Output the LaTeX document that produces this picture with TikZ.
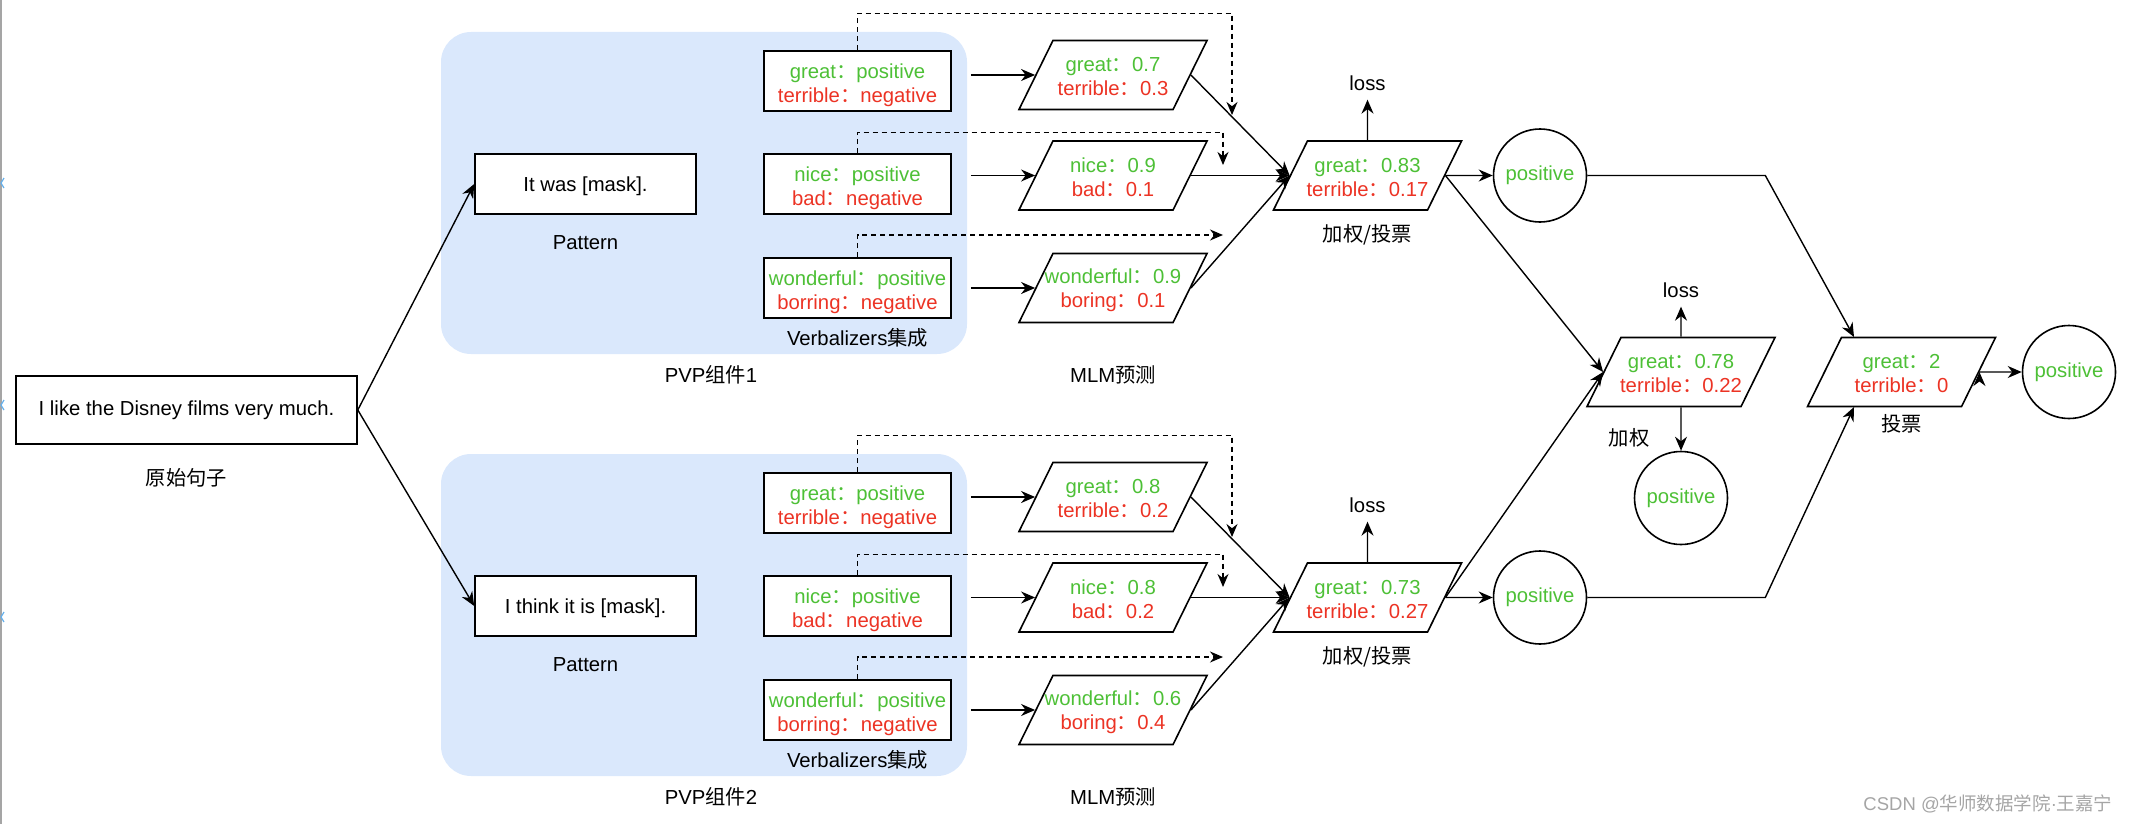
\documentclass[tikz,border=0pt]{standalone}
\usepackage{fontspec}
\setmainfont{Liberation Sans}
\newfontfamily\cjk{Noto Sans CJK SC}
\usetikzlibrary{arrows.meta,positioning,shapes.geometric,calc}

\definecolor{posgreen}{RGB}{77,192,54}
\definecolor{negred}{RGB}{236,51,36}
\definecolor{pvpblue}{RGB}{218,232,252}
\definecolor{markgray}{RGB}{165,165,165}
\definecolor{edgeblue}{RGB}{100,175,235}

\newcommand{\dgfont}{\fontsize{20.3pt}{24pt}\selectfont}
\newcommand{\fc}{{\cjk ：}}
\newcommand{\gtxt}[2]{\textcolor{posgreen}{#1\fc#2}}
\newcommand{\rtxt}[2]{\textcolor{negred}{#1\fc#2}}
% two coloured lines in a fixed box
\newcommand{\twoline}[4]{\parbox[c][69pt][c]{110pt}{\centering\vspace{4pt}\makebox[110pt]{\gtxt{#1}{#2}}\\\makebox[110pt]{\rtxt{#3}{#4}}}}
\newcommand{\verbline}[4]{\parbox[c][56pt][c]{183pt}{\centering\vspace{9pt}\gtxt{#1}{#2}\\\rtxt{#3}{#4}}}

\begin{document}
\begin{tikzpicture}[x=1pt,y=-1pt,
            every node/.style={font=\dgfont},
            box/.style={draw,rectangle,fill=white,line width=1.6pt,minimum height=60,inner xsep=2pt,align=center},
            src/.style={box,minimum width=341,minimum height=68},
            pat/.style={box,minimum width=221,text depth=0pt},
            verb/.style={box,minimum width=187,inner ysep=2pt},
            para/.style={draw,trapezium,trapezium left angle=63.8,trapezium right angle=116.2,trapezium stretches body,
              minimum width=188,inner xsep=5pt,inner ysep=0pt,fill=white,line width=1.6pt},
            res/.style={draw,circle,line width=1.6pt,minimum size=93,inner sep=0pt,text=posgreen},
            lab/.style={align=center},
            loss/.style={inner sep=9pt},
            arr/.style={draw,-{Stealth[length=14pt,width=12pt]},line width=1.4pt},
            hint/.style={draw,-{Stealth[length=13pt,width=11pt]},line width=1.3pt,dash pattern=on 5pt off 4pt}
          ]
          \useasboundingbox (0,0) rectangle (2130,824);

          %page edge
          \draw[markgray,line width=1.5pt] (1,0) -- (1,824);
          \draw[edgeblue,line width=1.2pt] (4,178) -- (1,183) -- (4,188);
          \draw[edgeblue,line width=1.2pt] (4,400) -- (1,405) -- (4,410);
          \draw[edgeblue,line width=1.2pt] (4,612) -- (1,617) -- (4,622);

          %PVP groups
          \fill[pvpblue,rounded corners=30] (441,32) rectangle (967,354);
          \fill[pvpblue,rounded corners=30] (441,454) rectangle (967,776);

          \node[src] (src) at (186.5,410) {I like the Disney films very much.};
          \node[lab,below of=src,node distance=68] (srclab) {\cjk 原始句子};

          %PVP 1
          \node[pat] (pat1) at (585.5,184) {It was [mask].};
          \node[lab,below of=pat1,node distance=59] (patlab1) {Pattern};
          \node[verb] (vb1) at (857.5,81) {\verbline{great}{positive}{terrible}{negative}};
          \node[verb,below of=vb1,node distance=103] (vb2) {\verbline{nice}{positive}{bad}{negative}};
          \node[verb,below of=vb2,node distance=104] (vb3) {\verbline{wonderful}{positive}{borring}{negative}};
          \node[lab,below of=vb3,node distance=50] (vblab1) {Verbalizers{\cjk 集成}};
          \node[lab] (pvplab1) at (711,375) {PVP{\cjk 组件}1};

          \node[para] (m1) at (1113,75) {\twoline{great}{0.7}{terrible}{0.3}};
          \node[para,below of=m1,node distance=100.5] (m2) {\twoline{nice}{0.9}{bad}{0.1}};
          \node[para,below of=m2,node distance=112.5] (m3) {\twoline{wonderful}{0.9}{boring}{0.1}};
          \node[lab,below of=m3,node distance=87] (mlmlab1) {MLM{\cjk 预测}};

          \node[para,right of=m2,node distance=254.5] (w1) {\twoline{great}{0.83}{terrible}{0.17}};
          \node[lab,loss,above of=w1,node distance=92.5] (loss1) {loss};
          \node[lab,below of=w1,node distance=59.5] (wlab1) {\cjk 加权/投票};
          \node[res,right of=w1,node distance=172.5] (c1) {positive};

          \coordinate (t1) at (1232,115);
          \coordinate (t2) at (1223,165);
          \coordinate (t3) at (1223,235);

          %PVP 2
          \node[pat] (pat2) at (585.5,606) {I think it is [mask].};
          \node[lab,below of=pat2,node distance=59] (patlab2) {Pattern};
          \node[verb] (vb4) at (857.5,503) {\verbline{great}{positive}{terrible}{negative}};
          \node[verb,below of=vb4,node distance=103] (vb5) {\verbline{nice}{positive}{bad}{negative}};
          \node[verb,below of=vb5,node distance=104] (vb6) {\verbline{wonderful}{positive}{borring}{negative}};
          \node[lab,below of=vb6,node distance=50] (vblab2) {Verbalizers{\cjk 集成}};
          \node[lab] (pvplab2) at (711,797) {PVP{\cjk 组件}2};

          \node[para] (m4) at (1113,497) {\twoline{great}{0.8}{terrible}{0.2}};
          \node[para,below of=m4,node distance=100.5] (m5) {\twoline{nice}{0.8}{bad}{0.2}};
          \node[para,below of=m5,node distance=112.5] (m6) {\twoline{wonderful}{0.6}{boring}{0.4}};
          \node[lab,below of=m6,node distance=87] (mlmlab2) {MLM{\cjk 预测}};

          \node[para,right of=m5,node distance=254.5] (w2) {\twoline{great}{0.73}{terrible}{0.27}};
          \node[lab,loss,above of=w2,node distance=92.5] (loss2) {loss};
          \node[lab,below of=w2,node distance=59.5] (wlab2) {\cjk 加权/投票};
          \node[res,right of=w2,node distance=172.5] (c2) {positive};

          \coordinate (t4) at (1232,537);
          \coordinate (t5) at (1223,587);
          \coordinate (t6) at (1223,657);

          %weighting and voting
          \node[para] (avg) at (1681,372) {\twoline{great}{0.78}{terrible}{0.22}};
          \node[lab,loss,above of=avg,node distance=82] (loss3) {loss};
          \node[lab] (avglab) at (1629,438) {\cjk 加权};
          \node[res,below of=avg,node distance=126] (c3) {positive};
          \node[para] (vote) at (1901.5,372) {\twoline{great}{2}{terrible}{0}};
          \node[lab,below of=vote,node distance=52] (votelab) {\cjk 投票};
          \node[res,right of=vote,node distance=167.5] (c4) {positive};

          \path[arr]
          (src.east) edge (pat1.west)
          (src.east) edge (pat2.west)
          ($(vb1.east |- m1.west)+(19,0)$) edge (m1.west)
          ($(vb2.east |- m2.west)+(19,0)$) edge (m2.west)
          ($(vb3.east |- m3.west)+(19,0)$) edge (m3.west)
          ($(vb4.east |- m4.west)+(19,0)$) edge (m4.west)
          ($(vb5.east |- m5.west)+(19,0)$) edge (m5.west)
          ($(vb6.east |- m6.west)+(19,0)$) edge (m6.west)
          (m1.east) edge (w1.west)
          (m2.east) edge (w1.west)
          (m3.east) edge (w1.west)
          (m4.east) edge (w2.west)
          (m5.east) edge (w2.west)
          (m6.east) edge (w2.west)
          (w1.north) edge (loss1.south)
          (w2.north) edge (loss2.south)
          (w1.east) edge (c1.west)
          (w2.east) edge (c2.west)
          (w1.east) edge (avg.west)
          (w2.east) edge (avg.west)
          (avg.north) edge (loss3.south)
          (avg.south) edge (c3.north)
          (vote.east) edge (c4.west)
          ;
          \path[arr] (c1.east) -- ++(178,0) -- ($(vote.center)+(-47.5,-35)$);
          \path[arr] (c2.east) -- ++(178,0) -- ($(vote.center)+(-47.5,35)$);

          %dashed links
          \path[hint] (vb1.north) -- ++(0,-37) -| (t1);
          \path[hint] (vb2.north) -- ++(0,-21) -| (t2);
          \path[hint] (vb3.north) |- (t3);
          \path[hint] (vb4.north) -- ++(0,-37) -| (t4);
          \path[hint] (vb5.north) -- ++(0,-21) -| (t5);
          \path[hint] (vb6.north) |- (t6);

          \node[anchor=east,text=markgray,font=\fontsize{18.5pt}{20pt}\selectfont] (mark) at (2116,804) {CSDN @{\cjk 华师数据学院}·{\cjk 王嘉宁}};
      \end{tikzpicture}
\end{document}
